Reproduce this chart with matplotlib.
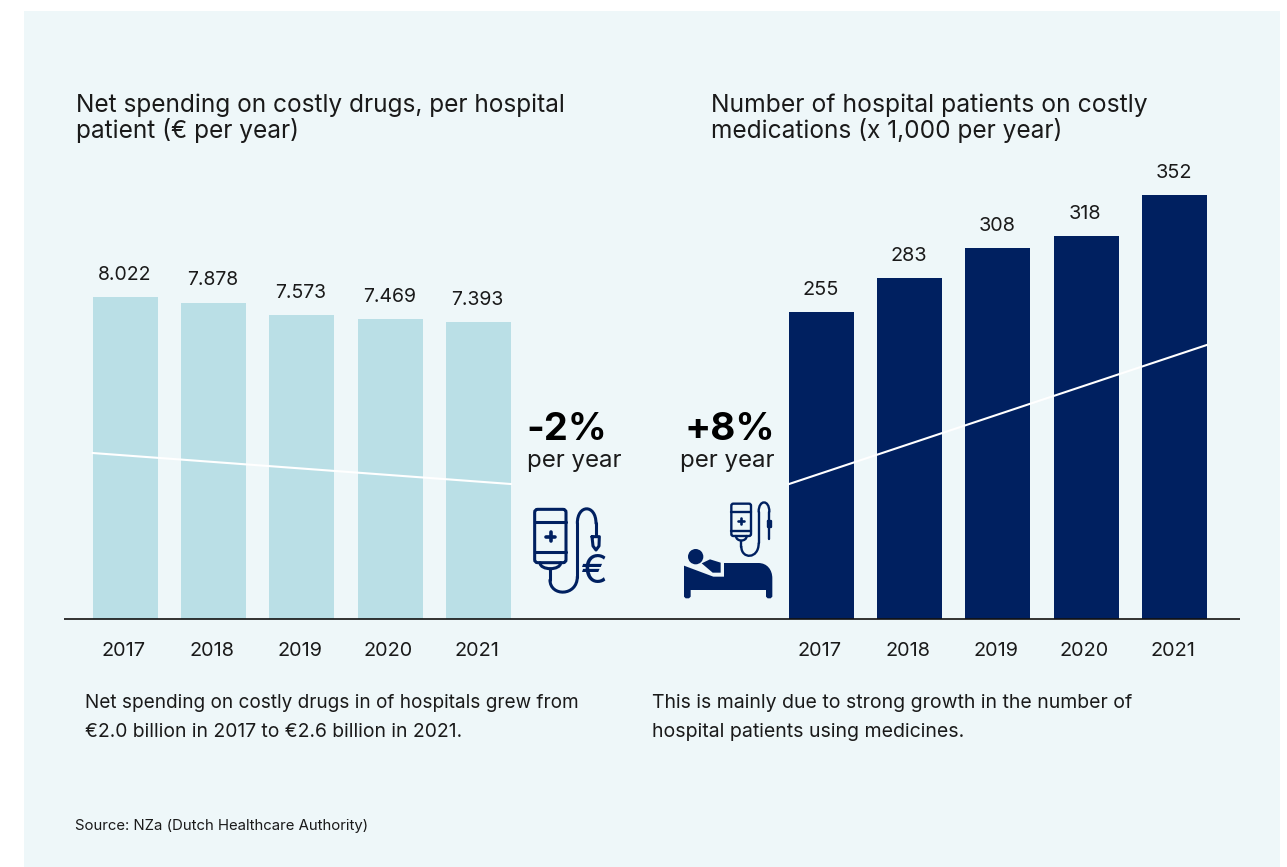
import matplotlib
matplotlib.use("Agg")
import matplotlib.pyplot as plt
from matplotlib.patches import Rectangle, FancyBboxPatch, Circle, PathPatch
from matplotlib.path import Path
from matplotlib.transforms import ScaledTranslation

plt.rcParams['font.family'] = ['Inter', 'DejaVu Sans']

years = ['2017', '2018', '2019', '2020', '2021']
spending = [8022, 7878, 7573, 7469, 7393]
spending_labels = ['8.022', '7.878', '7.573', '7.469', '7.393']
spending_trend = [4135, 3363]
patients = [255, 283, 308, 318, 352]
patients_trend = [112, 227.5]

W, H = 1287, 867
NAVY = '#002060'
LIGHT = '#badfe6'
BG = '#eef7f9'
TXT = '#1a1a1a'

fig = plt.figure(figsize=(W/100, H/100), dpi=100, facecolor='white')

# pixel overlay
ov = fig.add_axes([0, 0, 1, 1], zorder=0)
ov.set_xlim(0, W); ov.set_ylim(H, 0); ov.axis('off')
ov.add_patch(Rectangle((24, 11), 1256, 856, fc=BG, ec='none'))

BASE = 619
STEP = 88.25
BW = 65

def make_axes(x0, x1, first_center, top_px, ymax):
    ax = fig.add_axes([x0/W, 1-BASE/H, (x1-x0)/W, (BASE-top_px)/H], zorder=1)
    ax.patch.set_alpha(0)
    ax.set_xlim((x0-first_center)/STEP, (x1-first_center)/STEP)
    ax.set_ylim(0, ymax)
    for s in ['top', 'left', 'right']:
        ax.spines[s].set_visible(False)
    ax.spines['bottom'].set_linewidth(1.2)
    ax.spines['bottom'].set_color('#111111')
    ax.spines['bottom'].set_capstyle('butt')
    ax.set_yticks([])
    ax.set_xticks(range(5), years)
    ax.tick_params(axis='x', length=0, pad=16.4, labelsize=14.3, labelcolor=TXT)
    shift = ScaledTranslation(-1.5/100, 0, fig.dpi_scale_trans)
    for lab in ax.get_xticklabels():
        lab.set_transform(lab.get_transform() + shift)
    return ax

ax1 = make_axes(64, 652, 125.3, 100, (BASE-100)/0.04014)
idx = list(range(5))
ax1.bar(idx, spending, width=BW/STEP, color=LIGHT)
ax1.plot([-0.3683, 4.3683], spending_trend, color='white', lw=1.5)
for i, v, t in zip(idx, spending, spending_labels):
    ax1.annotate(t, (i, v), xytext=(-0.5, 9.6), textcoords='offset points', ha='center',
                 va='bottom', fontsize=14, color=TXT)

ax2 = make_axes(652, 1240, 821.3, 100, (BASE-100)/1.2045)
ax2.bar(idx, patients, width=BW/STEP, color=NAVY)
ax2.plot([-0.3683, 4.3683], patients_trend, color='white', lw=1.5)
for i, v in zip(idx, patients):
    ax2.annotate(str(v), (i, v), xytext=(-0.5, 9.6), textcoords='offset points', ha='center',
                 va='bottom', fontsize=14.3, color=TXT)

def T(x, y, s, size, weight='normal', ha='left', color=TXT):
    ov.text(x, y, s, fontsize=size, fontweight=weight, ha=ha, va='baseline', color=color)

T(76, 112, 'Net spending on costly drugs, per hospital', 17.6)
T(76, 138, 'patient (€ per year)', 17.6)
T(711, 112, 'Number of hospital patients on costly', 17.78)
T(711, 138, 'medications (x 1,000 per year)', 17.6)

T(526, 440, '-2%', 27.5, 'bold', color='black')
T(527, 467, 'per year', 17.3)
T(775.5, 440, '+8%', 27.8, 'bold', ha='right', color='black')
T(774, 467, 'per year', 17.3, ha='right')

T(85, 708, 'Net spending on costly drugs in of hospitals grew from', 13.67)
T(85, 737, '€2.0 billion in 2017 to €2.6 billion in 2021.', 13.9)
T(652, 708, 'This is mainly due to strong growth in the number of', 14)
T(652, 737, 'hospital patients using medicines.', 14.05)
T(75, 830, 'Source: NZa (Dutch Healthcare Authority)', 10.72)

# icons, coordinates from a 3x crop with origin (520, 400)
def z(x, y):
    return (520 + x/3, 400 + y/3)

def stroke(pts, lw=2.2, curve=False):
    P = [z(*p) for p in pts]
    if curve:
        codes = [Path.MOVETO] + [Path.CURVE4]*(len(P)-1)
    else:
        codes = [Path.MOVETO] + [Path.LINETO]*(len(P)-1)
    ov.add_patch(PathPatch(Path(P, codes), fc='none', ec=NAVY, lw=lw, capstyle='round', joinstyle='round'))

def box(x0, y0, x1, y1, r, lw=2.2):
    a = z(x0, y0); b = z(x1, y1)
    ov.add_patch(FancyBboxPatch(a, b[0]-a[0], b[1]-a[1], boxstyle=f'round,pad=0,rounding_size={r}',
                                fc='none', ec=NAVY, lw=lw))

# left icon
box(44, 328, 138, 488, 3)
stroke([(44, 365), (138, 365)])
stroke([(44, 455), (138, 455)])
stroke([(60, 488), (60, 512), (122, 512), (122, 488)], curve=True)
stroke([(90, 508), (90, 540)])
stroke([(90, 540), (90, 590), (172, 590), (172, 530)], curve=True)
stroke([(172, 530), (172, 370)])
stroke([(172, 370), (172, 312), (228, 312), (228, 370)], curve=True)
stroke([(228, 370), (228, 408)])
stroke([(216, 410), (238, 410), (237, 438), (228, 450), (219, 438), (216, 410)])
stroke([(78, 410), (106, 410)], lw=2.6)
stroke([(92, 396), (92, 424)], lw=2.6)
ex, ey = z(224, 518)
ov.text(ex, ey, '€', fontsize=29, color=NAVY, ha='center', va='center', fontweight='normal')

# right icon
box(634, 311, 693, 408, 2, lw=1.7)
stroke([(634, 335), (693, 335)], lw=1.7)
stroke([(634, 392), (693, 392)], lw=1.7)
stroke([(648, 408), (648, 426), (680, 426), (680, 408)], curve=True, lw=1.7)
stroke([(664, 422), (664, 440)], lw=1.7)
stroke([(664, 440), (664, 478), (716, 478), (716, 430)], curve=True, lw=1.7)
stroke([(716, 430), (716, 335)], lw=1.7)
stroke([(716, 335), (716, 298), (748, 298), (748, 335)], curve=True, lw=1.7)
stroke([(748, 335), (748, 418)], lw=1.7)
stroke([(744, 362), (752, 362), (752, 380), (744, 380), (744, 362)], lw=1.7)
stroke([(655, 362), (673, 362)], lw=1.9)
stroke([(664, 353), (664, 371)], lw=1.9)
cx, cy = z(527, 470)
ov.add_patch(Circle((cx, cy), 23/3, fc=NAVY, ec='none'))
M, L, C, X = Path.MOVETO, Path.LINETO, Path.CURVE4, Path.CLOSEPOLY
bed_v = [(492, 497), (580, 530), (612, 530), (612, 489), (715, 489),
         (742, 489), (757, 510), (757, 535), (757, 590), (752, 595), (743, 595), (738, 590), (738, 570),
         (512, 570), (512, 590), (507, 595), (497, 595), (492, 590), (492, 497)]
bed_c = [M, L, L, L, L, C, C, C, L, L, L, L, L, L, L, L, L, L, X]
ov.add_patch(PathPatch(Path([z(*p) for p in bed_v], bed_c), fc=NAVY, ec='none'))
arm_v = [(545, 490), (570, 478), (602, 488), (602, 518), (578, 518), (545, 490)]
arm_c = [M, L, L, L, L, X]
ov.add_patch(PathPatch(Path([z(*p) for p in arm_v], arm_c), fc=NAVY, ec='none'))

fig.savefig('out.png', dpi=100, facecolor=fig.get_facecolor())
